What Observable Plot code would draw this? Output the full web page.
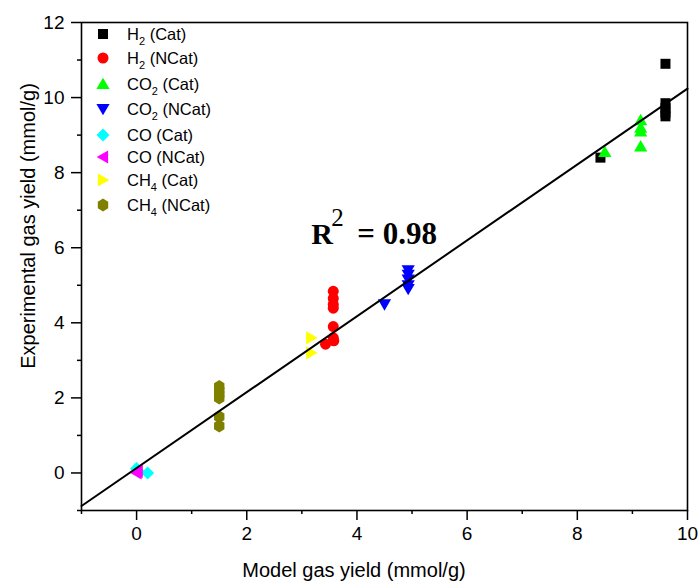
<!DOCTYPE html>
<html><head><meta charset="utf-8">
<script src="https://cdn.jsdelivr.net/npm/d3@7"></script>
<script src="https://cdn.jsdelivr.net/npm/@observablehq/plot@0.6"></script>
<style>body{margin:0;background:#fff}</style>
</head><body><div id="chart"></div>
<script>
// ---- data (model yield, experimental yield) in mmol/g ----
const h2CatX   = [8.42, 9.6, 9.6, 9.6, 9.6, 9.6];
const h2CatY   = [8.4, 10.9, 9.85, 9.72, 9.6, 9.5];
const h2NCatX  = [3.57, 3.57, 3.57, 3.57, 3.57, 3.57, 3.43, 3.58];
const h2NCatY  = [4.84, 4.65, 4.49, 4.39, 3.9, 3.6, 3.43, 3.52];
const co2CatX  = [8.5, 9.15, 9.15, 9.15, 9.15];
const co2CatY  = [8.55, 9.4, 9.2, 9.1, 8.7];
const co2NCatX = [4.5, 4.93, 4.93, 4.93, 4.93, 4.93];
const co2NCatY = [4.49, 5.4, 5.28, 5.15, 5.0, 4.9];
const coCatX   = [0.0, 0.2, 0.05];
const coCatY   = [0.12, 0.0, 0.02];
const coNCatX  = [0.0, 0.02];
const coNCatY  = [0.0, 0.04];
const ch4CatX  = [3.17, 3.17];
const ch4CatY  = [3.6, 3.2];
const ch4NCatX = [1.5, 1.5, 1.5, 1.5, 1.5, 1.5];
const ch4NCatY = [2.3, 2.2, 2.1, 2.0, 1.5, 1.25];
const fitX = [-1, 10];
const fitY = [-0.88, 10.24];
const r2Label = {x: 3.18, y: 6.09, base: "R", sup: "2", rest: "= 0.98"};
const xTicks = [0, 2, 4, 6, 8, 10];
const xMinor = [-1, 1, 3, 5, 7, 9];
const yTicks = [0, 2, 4, 6, 8, 10, 12];
const yMinor = [-1, 1, 3, 5, 7, 9, 11];
const xTitle = "Model gas yield (mmol/g)";
const yTitle = "Experimental gas yield (mmol/g)";

// ---- custom symbols (size = r^2*pi, as Plot passes) ----
const rad = s => Math.sqrt(s / Math.PI);
const poly = pts => ({draw(ctx, size) { const r = rad(size); pts.forEach(([a, b], i) => i ? ctx.lineTo(a * r, b * r) : ctx.moveTo(a * r, b * r)); ctx.closePath(); }});
const symSquare = poly([[-1,-1],[1,-1],[1,1],[-1,1]]);
const symCircle = {draw(ctx, size) { const r = rad(size); ctx.moveTo(r, 0); ctx.arc(0, 0, r, 0, 2 * Math.PI); }};
const symTriUp = poly([[0,-1.05],[1.1,0.85],[-1.1,0.85]]);
const symTriDown = poly([[0,1.05],[1.1,-0.85],[-1.1,-0.85]]);
const symTriLeft = poly([[-1.05,0],[0.85,-1.1],[0.85,1.1]]);
const symTriRight = poly([[1.05,0],[-0.85,-1.1],[-0.85,1.1]]);
const symDiamond = poly([[0,-1],[1,0],[0,1],[-1,0]]);
const symHex = poly([[0,-1],[0.8,-0.5],[0.8,0.5],[0,1],[-0.8,0.5],[-0.8,-0.5]]);

const series = [
  {label: ["H", "2", " (Cat)"],   xs: h2CatX,   ys: h2CatY,   color: "#000000", sym: symSquare,   r: 5},
  {label: ["H", "2", " (NCat)"],  xs: h2NCatX,  ys: h2NCatY,  color: "#ff0000", sym: symCircle,   r: 5.5},
  {label: ["CO", "2", " (Cat)"],  xs: co2CatX,  ys: co2CatY,  color: "#00ff00", sym: symTriUp,    r: 6},
  {label: ["CO", "2", " (NCat)"], xs: co2NCatX, ys: co2NCatY, color: "#0000ff", sym: symTriDown,  r: 6},
  {label: ["CO (Cat)", "", ""],   xs: coCatX,   ys: coCatY,   color: "#00ffff", sym: symDiamond,  r: 6.5},
  {label: ["CO (NCat)", "", ""],  xs: coNCatX,  ys: coNCatY,  color: "#ff00ff", sym: symTriLeft,  r: 6},
  {label: ["CH", "4", " (Cat)"],  xs: ch4CatX,  ys: ch4CatY,  color: "#ffff00", sym: symTriRight, r: 6},
  {label: ["CH", "4", " (NCat)"], xs: ch4NCatX, ys: ch4NCatY, color: "#808000", sym: symHex,      r: 6.5}
];
const legendRows = [34, 58, 84, 109, 135, 157, 180, 205];

const font = "'Liberation Sans', Arial, sans-serif";
const chart = Plot.plot({
  width: 699, height: 586,
  marginLeft: 81, marginRight: 12, marginTop: 22, marginBottom: 76,
  style: {fontFamily: font, background: "#fff", color: "#000"},
  x: {domain: [-1, 10]},
  y: {domain: [-1, 12]},
  marks: [
    ...series.map(s => Plot.dot(s.xs.map((x, i) => ({x, y: s.ys[i]})), {
      x: "x", y: "y", fill: s.color, stroke: "none", r: s.r, symbol: s.sym
    })),
    Plot.line(fitX.map((x, i) => ({x, y: fitY[i]})), {x: "x", y: "y", stroke: "#000", strokeWidth: 2}),
    Plot.frame({stroke: "#000", strokeWidth: 1.6}),
    Plot.axisX({ticks: xTicks, tickSize: 10, tickFormat: () => "", label: null, strokeWidth: 1.5}),
    Plot.axisX({ticks: xMinor, tickSize: 4, tickFormat: () => "", label: null, strokeWidth: 1.5}),
    Plot.axisY({ticks: yTicks, tickSize: 10, tickFormat: () => "", label: null, strokeWidth: 1.5}),
    Plot.axisY({ticks: yMinor, tickSize: 4, tickFormat: () => "", label: null, strokeWidth: 1.5}),
    Plot.text(xTicks, {x: d => d, y: () => -1, text: d => String(d), dy: 16, lineAnchor: "top",
      textAnchor: "middle", fontSize: 19, fontFamily: font, fill: "#000"}),
    Plot.text(yTicks, {y: d => d, x: () => -1, text: d => String(d), dx: -17, lineAnchor: "middle",
      textAnchor: "end", fontSize: 19, fontFamily: font, fill: "#000"})
  ]
});

const svg = d3.select(chart);
const sx = chart.scale("x"), sy = chart.scale("y");

// axis titles
svg.append("text").attr("x", 354).attr("y", 577).attr("text-anchor", "middle")
  .attr("font-family", font).attr("font-size", 20).attr("fill", "#000").text(xTitle);
svg.append("text").attr("transform", "translate(35,226) rotate(-90)").attr("text-anchor", "middle")
  .attr("font-family", font).attr("font-size", 20).attr("fill", "#000").text(yTitle);

// legend
series.forEach((s, i) => {
  const y = legendRows[i];
  svg.append("path").attr("d", d3.symbol(s.sym, s.r * s.r * Math.PI)()).attr("fill", s.color)
    .attr("transform", `translate(103,${y})`);
  const t = svg.append("text").attr("text-anchor", "start").attr("x", 127).attr("y", y + 5.5)
    .attr("font-family", font).attr("font-size", 16.5).attr("fill", "#000");
  t.append("tspan").text(s.label[0]);
  if (s.label[1]) {
    t.append("tspan").attr("font-size", 11).attr("dy", 5).text(s.label[1]);
    t.append("tspan").attr("dy", -5).text(s.label[2]);
  }
});

// R^2 annotation
const ax = sx.apply(r2Label.x), ay = sy.apply(r2Label.y);
const serif = "'Liberation Serif', 'Times New Roman', serif";
svg.append("text").attr("text-anchor", "start").attr("x", ax).attr("y", ay)
  .attr("font-family", serif).attr("font-weight", "bold")
  .attr("font-size", 30).attr("fill", "#000").text(r2Label.base);
svg.append("text").attr("text-anchor", "start").attr("x", ax + 20).attr("y", ay - 18)
  .attr("font-family", serif).attr("font-size", 25).attr("fill", "#000").text(r2Label.sup);
svg.append("text").attr("text-anchor", "start").attr("x", ax + 46).attr("y", ay)
  .attr("font-family", serif).attr("font-weight", "bold")
  .attr("font-size", 31).attr("fill", "#000").text(r2Label.rest);

document.getElementById("chart").appendChild(chart);
</script>
</body></html>
